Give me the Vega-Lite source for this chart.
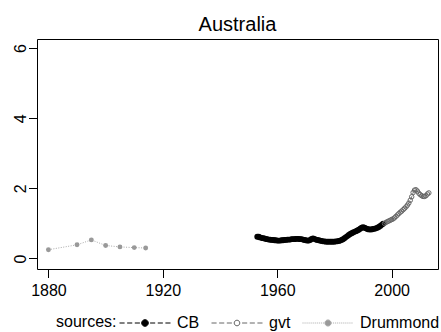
{
  "$schema": "https://vega.github.io/schema/vega-lite/v6.json",
  "width": 401,
  "height": 230,
  "autosize": {"type": "none"},
  "padding": {"left": 37, "top": 39, "right": 3, "bottom": 63},
  "title": {"text": "Australia", "fontSize": 20, "font": "Liberation Sans", "fontWeight": "normal", "color": "black", "anchor": "middle", "frame": "group", "baseline": "alphabetic", "offset": 7, "dy": 19},
  "config": {
    "view": {"stroke": "black", "strokeWidth": 1},
    "axis": {"domain": false, "grid": false, "tickColor": "black", "tickWidth": 1, "tickSize": 8.5, "labelFont": "Liberation Sans", "labelFontSize": 16, "labelColor": "black", "title": null}
  },
  "data": {"values": [
    {"year": 1880, "value": 0.25, "source": "Drummond"},
    {"year": 1890, "value": 0.39, "source": "Drummond"},
    {"year": 1895, "value": 0.53, "source": "Drummond"},
    {"year": 1900, "value": 0.37, "source": "Drummond"},
    {"year": 1905, "value": 0.33, "source": "Drummond"},
    {"year": 1910, "value": 0.31, "source": "Drummond"},
    {"year": 1914, "value": 0.30, "source": "Drummond"},
    {"year": 1953.0, "value": 0.62, "source": "CB"},
    {"year": 1953.5, "value": 0.62, "source": "CB"},
    {"year": 1954.0, "value": 0.60, "source": "CB"},
    {"year": 1954.5, "value": 0.59, "source": "CB"},
    {"year": 1955.0, "value": 0.58, "source": "CB"},
    {"year": 1955.5, "value": 0.57, "source": "CB"},
    {"year": 1956.0, "value": 0.56, "source": "CB"},
    {"year": 1956.5, "value": 0.55, "source": "CB"},
    {"year": 1957.0, "value": 0.54, "source": "CB"},
    {"year": 1957.5, "value": 0.54, "source": "CB"},
    {"year": 1958.0, "value": 0.53, "source": "CB"},
    {"year": 1958.5, "value": 0.53, "source": "CB"},
    {"year": 1959.0, "value": 0.52, "source": "CB"},
    {"year": 1959.5, "value": 0.52, "source": "CB"},
    {"year": 1960.0, "value": 0.51, "source": "CB"},
    {"year": 1960.5, "value": 0.51, "source": "CB"},
    {"year": 1961.0, "value": 0.51, "source": "CB"},
    {"year": 1961.5, "value": 0.52, "source": "CB"},
    {"year": 1962.0, "value": 0.52, "source": "CB"},
    {"year": 1962.5, "value": 0.53, "source": "CB"},
    {"year": 1963.0, "value": 0.53, "source": "CB"},
    {"year": 1963.5, "value": 0.54, "source": "CB"},
    {"year": 1964.0, "value": 0.54, "source": "CB"},
    {"year": 1964.5, "value": 0.54, "source": "CB"},
    {"year": 1965.0, "value": 0.55, "source": "CB"},
    {"year": 1965.5, "value": 0.55, "source": "CB"},
    {"year": 1966.0, "value": 0.55, "source": "CB"},
    {"year": 1966.5, "value": 0.56, "source": "CB"},
    {"year": 1967.0, "value": 0.56, "source": "CB"},
    {"year": 1967.5, "value": 0.56, "source": "CB"},
    {"year": 1968.0, "value": 0.55, "source": "CB"},
    {"year": 1968.5, "value": 0.55, "source": "CB"},
    {"year": 1969.0, "value": 0.54, "source": "CB"},
    {"year": 1969.5, "value": 0.53, "source": "CB"},
    {"year": 1970.0, "value": 0.52, "source": "CB"},
    {"year": 1970.5, "value": 0.51, "source": "CB"},
    {"year": 1971.0, "value": 0.51, "source": "CB"},
    {"year": 1971.5, "value": 0.53, "source": "CB"},
    {"year": 1972.0, "value": 0.56, "source": "CB"},
    {"year": 1972.5, "value": 0.57, "source": "CB"},
    {"year": 1973.0, "value": 0.56, "source": "CB"},
    {"year": 1973.5, "value": 0.54, "source": "CB"},
    {"year": 1974.0, "value": 0.53, "source": "CB"},
    {"year": 1974.5, "value": 0.52, "source": "CB"},
    {"year": 1975.0, "value": 0.51, "source": "CB"},
    {"year": 1975.5, "value": 0.50, "source": "CB"},
    {"year": 1976.0, "value": 0.49, "source": "CB"},
    {"year": 1976.5, "value": 0.49, "source": "CB"},
    {"year": 1977.0, "value": 0.48, "source": "CB"},
    {"year": 1977.5, "value": 0.48, "source": "CB"},
    {"year": 1978.0, "value": 0.48, "source": "CB"},
    {"year": 1978.5, "value": 0.48, "source": "CB"},
    {"year": 1979.0, "value": 0.48, "source": "CB"},
    {"year": 1979.5, "value": 0.48, "source": "CB"},
    {"year": 1980.0, "value": 0.48, "source": "CB"},
    {"year": 1980.5, "value": 0.49, "source": "CB"},
    {"year": 1981.0, "value": 0.49, "source": "CB"},
    {"year": 1981.5, "value": 0.50, "source": "CB"},
    {"year": 1982.0, "value": 0.51, "source": "CB"},
    {"year": 1982.5, "value": 0.53, "source": "CB"},
    {"year": 1983.0, "value": 0.55, "source": "CB"},
    {"year": 1983.5, "value": 0.58, "source": "CB"},
    {"year": 1984.0, "value": 0.61, "source": "CB"},
    {"year": 1984.5, "value": 0.64, "source": "CB"},
    {"year": 1985.0, "value": 0.67, "source": "CB"},
    {"year": 1985.5, "value": 0.70, "source": "CB"},
    {"year": 1986.0, "value": 0.72, "source": "CB"},
    {"year": 1986.5, "value": 0.74, "source": "CB"},
    {"year": 1987.0, "value": 0.76, "source": "CB"},
    {"year": 1987.5, "value": 0.78, "source": "CB"},
    {"year": 1988.0, "value": 0.80, "source": "CB"},
    {"year": 1988.5, "value": 0.82, "source": "CB"},
    {"year": 1989.0, "value": 0.85, "source": "CB"},
    {"year": 1989.5, "value": 0.88, "source": "CB"},
    {"year": 1990.0, "value": 0.89, "source": "CB"},
    {"year": 1990.5, "value": 0.88, "source": "CB"},
    {"year": 1991.0, "value": 0.86, "source": "CB"},
    {"year": 1991.5, "value": 0.84, "source": "CB"},
    {"year": 1992.0, "value": 0.83, "source": "CB"},
    {"year": 1992.5, "value": 0.83, "source": "CB"},
    {"year": 1993.0, "value": 0.83, "source": "CB"},
    {"year": 1993.5, "value": 0.84, "source": "CB"},
    {"year": 1994.0, "value": 0.85, "source": "CB"},
    {"year": 1994.5, "value": 0.86, "source": "CB"},
    {"year": 1995.0, "value": 0.88, "source": "CB"},
    {"year": 1995.5, "value": 0.90, "source": "CB"},
    {"year": 1996.0, "value": 0.93, "source": "CB"},
    {"year": 1996.5, "value": 0.96, "source": "CB"},
    {"year": 1997.0, "value": 0.99, "source": "CB"},
    {"year": 1997.5, "value": 1.00, "source": "gvt"},
    {"year": 1998.0, "value": 1.03, "source": "gvt"},
    {"year": 1998.5, "value": 1.05, "source": "gvt"},
    {"year": 1999.0, "value": 1.07, "source": "gvt"},
    {"year": 1999.5, "value": 1.09, "source": "gvt"},
    {"year": 2000.0, "value": 1.11, "source": "gvt"},
    {"year": 2000.5, "value": 1.13, "source": "gvt"},
    {"year": 2001.0, "value": 1.16, "source": "gvt"},
    {"year": 2001.5, "value": 1.20, "source": "gvt"},
    {"year": 2002.0, "value": 1.24, "source": "gvt"},
    {"year": 2002.5, "value": 1.28, "source": "gvt"},
    {"year": 2003.0, "value": 1.32, "source": "gvt"},
    {"year": 2003.5, "value": 1.35, "source": "gvt"},
    {"year": 2004.0, "value": 1.39, "source": "gvt"},
    {"year": 2004.5, "value": 1.43, "source": "gvt"},
    {"year": 2005.0, "value": 1.47, "source": "gvt"},
    {"year": 2005.5, "value": 1.52, "source": "gvt"},
    {"year": 2006.0, "value": 1.58, "source": "gvt"},
    {"year": 2006.5, "value": 1.66, "source": "gvt"},
    {"year": 2007.0, "value": 1.76, "source": "gvt"},
    {"year": 2007.5, "value": 1.88, "source": "gvt"},
    {"year": 2008.0, "value": 1.95, "source": "gvt"},
    {"year": 2008.5, "value": 1.96, "source": "gvt"},
    {"year": 2009.0, "value": 1.92, "source": "gvt"},
    {"year": 2009.5, "value": 1.86, "source": "gvt"},
    {"year": 2010.0, "value": 1.82, "source": "gvt"},
    {"year": 2010.5, "value": 1.79, "source": "gvt"},
    {"year": 2011.0, "value": 1.77, "source": "gvt"},
    {"year": 2011.5, "value": 1.77, "source": "gvt"},
    {"year": 2012.0, "value": 1.79, "source": "gvt"},
    {"year": 2012.5, "value": 1.84, "source": "gvt"},
    {"year": 2013.0, "value": 1.87, "source": "gvt"}
  ]},
  "encoding": {
    "x": {"field": "year", "type": "quantitative", "scale": {"domain": [1876.0, 2016.2], "nice": false, "zero": false}, "axis": {"values": [1880, 1920, 1960, 2000], "format": "d", "labelPadding": 5, "labelFlush": false, "labelOverlap": false}},
    "y": {"field": "value", "type": "quantitative", "scale": {"domain": [-0.3, 6.26], "nice": false, "zero": false}, "axis": {"values": [0, 2, 4, 6], "labelAngle": 270, "labelAlign": "center", "labelBaseline": "alphabetic", "labelPadding": 3, "labelFlush": false, "labelOverlap": false}}
  },
  "layer": [
    {"transform": [{"filter": "datum.source === 'Drummond'"}], "mark": {"type": "line", "color": "#aaaaaa", "strokeWidth": 1, "strokeDash": [1, 1.5]}},
    {"transform": [{"filter": "datum.source === 'Drummond'"}], "mark": {"type": "circle", "color": "#999999", "size": 24, "opacity": 1}},
    {"transform": [{"filter": "datum.source === 'CB'"}], "mark": {"type": "line", "color": "black", "strokeWidth": 1, "strokeDash": [4, 2]}},
    {"transform": [{"filter": "datum.source === 'CB'"}], "mark": {"type": "circle", "color": "black", "size": 34, "opacity": 1}},
    {"transform": [{"filter": "datum.source === 'gvt'"}], "mark": {"type": "line", "color": "#777777", "strokeWidth": 1, "strokeDash": [4, 2]}},
    {"transform": [{"filter": "datum.source === 'gvt'"}], "mark": {"type": "point", "filled": false, "color": "#666666", "size": 20, "strokeWidth": 1, "opacity": 1}},
    {"transform": [{"filter": "datum.year < 0"}], "mark": {"type": "point", "filled": true, "strokeWidth": 1, "opacity": 1},
      "encoding": {
        "shape": {"field": "source", "type": "nominal", "scale": {"domain": ["CB", "gvt", "Drummond"], "range": [
          "M-1,0H-0.8M-0.7,0H-0.5M-0.4,0H-0.2M0.2,0H0.4M0.5,0H0.7M0.8,0H1M0.13,0A0.13,0.13 0 1,1 -0.13,0A0.13,0.13 0 1,1 0.13,0Z",
          "M-1,0H-0.8M-0.7,0H-0.5M-0.4,0H-0.2M0.2,0H0.4M0.5,0H0.7M0.8,0H1M0.11,0A0.11,0.11 0 1,1 -0.11,0A0.11,0.11 0 1,1 0.11,0Z",
          "M-1,0h0.04m0.04,0h0.04m0.04,0h0.04m0.04,0h0.04m0.04,0h0.04m0.04,0h0.04m0.04,0h0.04m0.04,0h0.04m0.04,0h0.04m0.04,0h0.04m0.04,0h0.04M0.12,0h0.04m0.04,0h0.04m0.04,0h0.04m0.04,0h0.04m0.04,0h0.04m0.04,0h0.04m0.04,0h0.04m0.04,0h0.04m0.04,0h0.04m0.04,0h0.04m0.04,0h0.04M0.12,0A0.12,0.12 0 1,1 -0.12,0A0.12,0.12 0 1,1 0.12,0Z"
        ]},
          "legend": {"title": "sources:", "orient": "none", "legendX": 19, "legendY": 258, "direction": "horizontal", "titleOrient": "left", "titleAnchor": "middle", "titleBaseline": "top", "titleFont": "Liberation Sans", "titleFontSize": 16, "titleFontWeight": "normal", "titleColor": "black", "titlePadding": 2, "labelFont": "Liberation Sans", "labelFontSize": 16, "labelColor": "black", "labelOffset": 6, "columnPadding": 9, "symbolSize": 2601, "symbolStrokeWidth": 1, "labelLimit": 0, "symbolOpacity": 1}},
        "fill": {"field": "source", "type": "nominal", "scale": {"domain": ["CB", "gvt", "Drummond"], "range": ["black", "white", "#999999"]}, "legend": {"title": "sources:", "orient": "none", "legendX": 19, "legendY": 258, "direction": "horizontal", "titleOrient": "left", "titleAnchor": "middle", "titleBaseline": "top", "titleFont": "Liberation Sans", "titleFontSize": 16, "titleFontWeight": "normal", "titleColor": "black", "titlePadding": 2, "labelFont": "Liberation Sans", "labelFontSize": 16, "labelColor": "black", "labelOffset": 6, "columnPadding": 9, "symbolSize": 2601, "symbolStrokeWidth": 1, "labelLimit": 0, "symbolOpacity": 1}},
        "stroke": {"field": "source", "type": "nominal", "scale": {"domain": ["CB", "gvt", "Drummond"], "range": ["black", "#666666", "#aaaaaa"]}, "legend": {"title": "sources:", "orient": "none", "legendX": 19, "legendY": 258, "direction": "horizontal", "titleOrient": "left", "titleAnchor": "middle", "titleBaseline": "top", "titleFont": "Liberation Sans", "titleFontSize": 16, "titleFontWeight": "normal", "titleColor": "black", "titlePadding": 2, "labelFont": "Liberation Sans", "labelFontSize": 16, "labelColor": "black", "labelOffset": 6, "columnPadding": 9, "symbolSize": 2601, "symbolStrokeWidth": 1, "labelLimit": 0, "symbolOpacity": 1}}
      }
    }
  ]
}
